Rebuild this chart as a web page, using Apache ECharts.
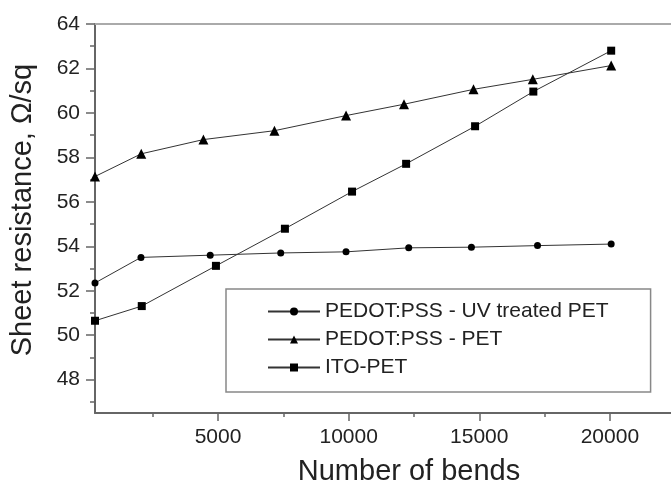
<!DOCTYPE html>
<html>
<head>
<meta charset="utf-8">
<script src="https://cdn.jsdelivr.net/npm/echarts@6/dist/echarts.min.js"></script>
<style>
  html, body { margin: 0; padding: 0; background: #fff; }
  #chart { width: 671px; height: 485px; }
</style>
</head>
<body>
<div id="chart"></div>
<script>
// data
var uvX = [290, 2050, 4700, 7400, 9900, 12300, 14700, 17230, 20050];
var uvY = [52.35, 53.5, 53.6, 53.7, 53.75, 53.93, 53.96, 54.03, 54.1];

var petX = [290, 2060, 4440, 7160, 9900, 12120, 14780, 17050, 20050];
var petY = [57.14, 58.16, 58.8, 59.2, 59.88, 60.39, 61.06, 61.51, 62.13];

var itoX = [290, 2080, 4920, 7560, 10130, 12200, 14840, 17070, 20050];
var itoY = [50.65, 51.31, 53.12, 54.79, 56.46, 57.71, 59.4, 60.96, 62.8];

var xMajor = [5000, 10000, 15000, 20000];
var xMinor = [2500, 7500, 12500, 17500];
var yMajor = [48, 50, 52, 54, 56, 58, 60, 62, 64];
var yMinor = [47, 49, 51, 53, 55, 57, 59, 61, 63];

var names = ['PEDOT:PSS - UV treated PET', 'PEDOT:PSS - PET', 'ITO-PET'];

function pairs(xs, ys) {
    var out = [];
    for (var i = 0; i < xs.length; i++) out.push([xs[i], ys[i]]);
    return out;
}

var chart = echarts.init(document.getElementById('chart'));

var font = 'Liberation Sans, Arial, sans-serif';
var axisColor = '#666';
var xMin = 290, xMax = 22340;

var option = {
    backgroundColor: '#fff',
    animation: false,
    grid: { left: 95, top: 24, bottom: 72, right: 0, containLabel: false, outerBoundsMode: 'none' },
    legend: {
        orient: 'vertical',
        left: 226,
        top: 289,
        padding: [12, 42, 14, 41],
        itemWidth: 52,
        itemHeight: 10,
        itemGap: 7,
        borderColor: '#888',
        borderWidth: 1.5,
        backgroundColor: '#fff',
        textStyle: { fontFamily: font, fontSize: 21, color: '#222' },
        data: names
    },
    xAxis: [
        {
            type: 'value', min: xMin, max: xMax, position: 'bottom',
            name: 'Number of bends', nameLocation: 'middle', nameGap: 44,
            nameTextStyle: { fontFamily: font, fontSize: 29, color: '#222', padding: [0, 0, 0, 52] },
            splitLine: { show: false },
            axisLine: { lineStyle: { color: axisColor, width: 2 } },
            axisTick: { customValues: xMajor, length: 8, lineStyle: { color: axisColor, width: 1.5 } },
            axisLabel: {
                customValues: xMajor, margin: 14, fontFamily: font, fontSize: 21, color: '#222',
                formatter: function (v) { return String(v); }
            }
        },
        {
            type: 'value', min: xMin, max: xMax, position: 'bottom',
            splitLine: { show: false },
            axisLine: { show: false },
            axisTick: { customValues: xMinor, length: 4, lineStyle: { color: axisColor, width: 1.5 } },
            axisLabel: { show: false }
        },
        {
            type: 'value', min: xMin, max: xMax, position: 'top',
            splitLine: { show: false },
            axisLine: { lineStyle: { color: '#aaa', width: 2 } },
            axisTick: { show: false },
            axisLabel: { show: false }
        }
    ],
    yAxis: [
        {
            type: 'value', min: 46.5, max: 64, position: 'left',
            name: 'Sheet resistance, \u03A9/sq', nameLocation: 'middle', nameGap: 58, nameRotate: 90,
            nameTextStyle: { fontFamily: font, fontSize: 29, color: '#222', padding: [0, 0, 0, 17] },
            splitLine: { show: false },
            axisLine: { lineStyle: { color: axisColor, width: 2 } },
            axisTick: { customValues: yMajor, length: 9, lineStyle: { color: axisColor, width: 1.5 } },
            axisLabel: { customValues: yMajor, margin: 15, fontFamily: font, fontSize: 21, color: '#222' }
        },
        {
            type: 'value', min: 46.5, max: 64, position: 'left',
            splitLine: { show: false },
            axisLine: { show: false },
            axisTick: { customValues: yMinor, length: 5, lineStyle: { color: axisColor, width: 1.5 } },
            axisLabel: { show: false }
        }
    ],
    series: [
        {
            name: names[0], type: 'line', data: pairs(uvX, uvY),
            symbol: 'circle', symbolSize: 7,
            lineStyle: { color: '#333', width: 1 },
            itemStyle: { color: '#000' }
        },
        {
            name: names[1], type: 'line', data: pairs(petX, petY),
            symbol: 'triangle', symbolSize: 10,
            lineStyle: { color: '#333', width: 1 },
            itemStyle: { color: '#000' }
        },
        {
            name: names[2], type: 'line', data: pairs(itoX, itoY),
            symbol: 'rect', symbolSize: 8,
            lineStyle: { color: '#333', width: 1 },
            itemStyle: { color: '#000' }
        }
    ]
};

chart.setOption(option);
</script>
</body>
</html>
